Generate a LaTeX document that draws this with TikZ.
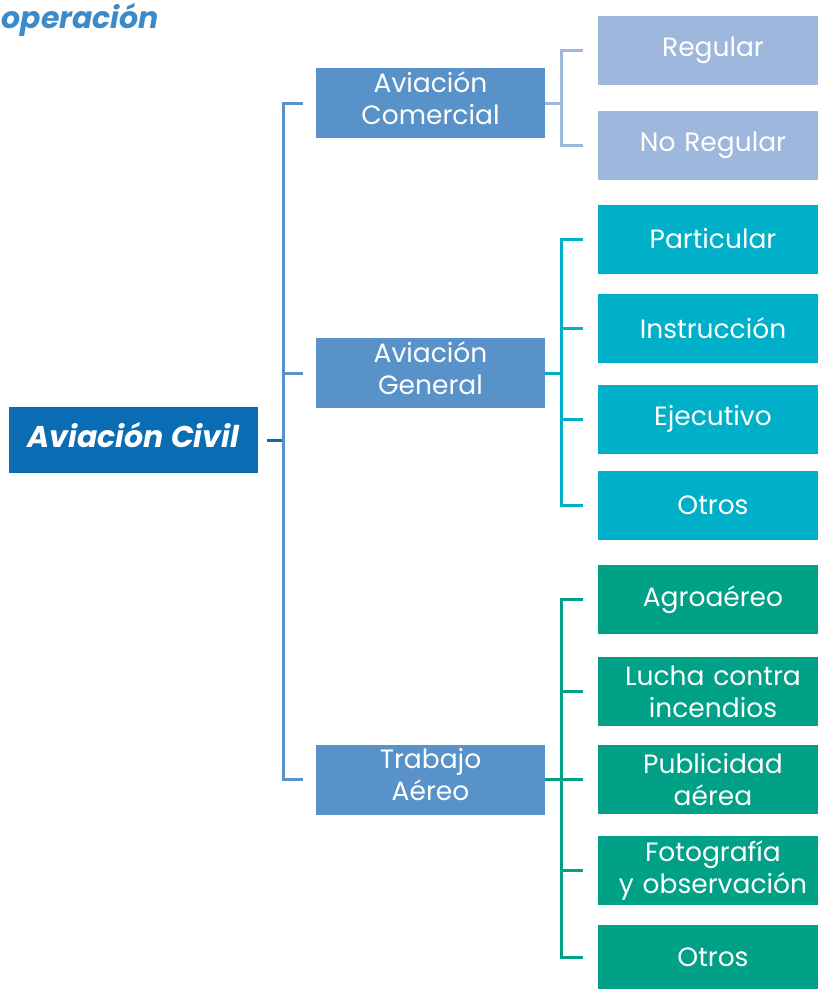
\documentclass[tikz,border=0pt]{standalone}
\usepackage{fontspec}
\setmainfont{Poppins}
\usetikzlibrary{positioning}

\definecolor{civil}{HTML}{0A6DB3}
\definecolor{rama}{HTML}{5892C8}
\definecolor{claro}{HTML}{9DB8DC}
\definecolor{cian}{HTML}{00B0C8}
\definecolor{verde}{HTML}{00A186}
\definecolor{titulo}{HTML}{3D8AC9}

\begin{document}
\begin{tikzpicture}[x=1pt, y=-1pt, font=\fontsize{26.5}{32}\selectfont,
	caja/.style={text=white, align=center, inner sep=0pt},
	rama/.style={caja, fill=rama, minimum width=229pt, minimum height=70pt, text depth=10pt},
	hoja/.style={caja, text width=220pt, minimum height=69pt,
		execute at begin node={\leftskip=10pt plus 1fil\rightskip=0pt plus 1fil\parfillskip=0pt}},
	linea/.style={line width=3pt}]
	\useasboundingbox (0,0) rectangle (818,989);

	\node[anchor=base west, text=titulo, font=\fontsize{30}{34}\selectfont\bfseries\itshape] (titulo) at (-2,28) {operación};

	\node[caja, fill=civil, minimum width=249pt, minimum height=66pt, text depth=10pt, font=\fontsize{30}{34}\selectfont\bfseries\itshape] (civil) at (133.5,440) {Aviación Civil};

	\node[rama] (comercial) at (430.5,103) {Aviación\\Comercial};
	\node[rama] (general) at (430.5,373) {Aviación\\General};
	\node[rama] (trabajo) at (430.5,779.5) {Trabajo\\Aéreo};

	\node[hoja, fill=claro] (regular) at (708,50.5) {Regular};
	\node[hoja, fill=claro] (noregular) at (708,145.5) {No Regular};

	\node[hoja, fill=cian] (particular) at (708,239) {Particular};
	\node[hoja, fill=cian] (instruccion) at (708,328) {Instrucción};
	\node[hoja, fill=cian] (ejecutivo) at (708,419) {Ejecutivo};
	\node[hoja, fill=cian] (otrosG) at (708,505) {Otros};

	\node[hoja, fill=verde] (agro) at (708,599.5) {Agroaéreo};
	\node[hoja, fill=verde] (lucha) at (708,691.5) {Lucha contra\\incendios};
	\node[hoja, fill=verde] (publicidad) at (708,779.5) {Publicidad\\aérea};
	\node[hoja, fill=verde] (foto) at (708,870.5) {Fotografía\\y observación};
	\node[hoja, fill=verde, minimum height=64pt] (otrosT) at (708,957) {Otros};

	% primer nivel
	\draw[linea, draw=civil] ([xshift=9pt]civil.east) -- ([xshift=-32pt]general.west |- civil.east);
	\draw[linea, draw=rama] ([xshift=-13pt]comercial.west) -| ([xshift=-32pt]trabajo.west) -- ([xshift=-13pt]trabajo.west)
		([xshift=-32pt]general.west) edge ([xshift=-13pt]general.west);

	% segundo nivel
	\draw[linea, draw=claro] (comercial.east) -- ([xshift=-36pt]regular.west |- comercial.east)
		([xshift=-15pt]regular.west) -| ([xshift=-36pt]noregular.west) -- ([xshift=-15pt]noregular.west);

	\draw[linea, draw=cian] (general.east) -- ([xshift=-36pt]particular.west |- general.east)
		([xshift=-15pt]particular.west) -| ([xshift=-36pt]otrosG.west) -- ([xshift=-15pt]otrosG.west)
		([xshift=-36pt]instruccion.west) edge ([xshift=-15pt]instruccion.west)
		([xshift=-36pt]ejecutivo.west) edge ([xshift=-15pt]ejecutivo.west);

	\draw[linea, draw=verde] (trabajo.east) -- ([xshift=-36pt]publicidad.west |- trabajo.east)
		([xshift=-15pt]agro.west) -| ([xshift=-36pt]otrosT.west) -- ([xshift=-15pt]otrosT.west)
		([xshift=-36pt]lucha.west) edge ([xshift=-15pt]lucha.west)
		([xshift=-36pt]publicidad.west) edge ([xshift=-15pt]publicidad.west)
		([xshift=-36pt]foto.west) edge ([xshift=-15pt]foto.west);
\end{tikzpicture}
\end{document}
